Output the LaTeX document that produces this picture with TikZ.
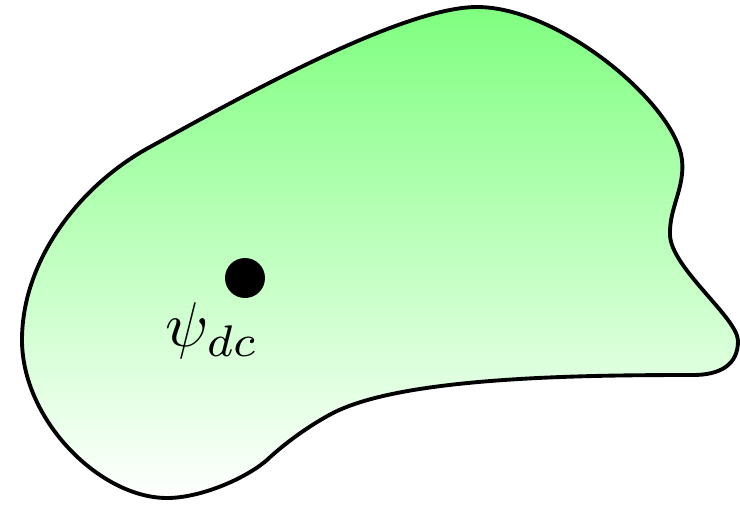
\documentclass[tikz,border=0pt]{standalone}
\begin{document}
\begin{tikzpicture}[x=0.02cm,y=-0.02cm,
  blob/.style={draw=black,line width=2.2pt,top color=green!50,bottom color=white},
  dotnode/.style={circle,fill=black,inner sep=0pt,minimum size=0.8cm},
  labelnode/.style={inner sep=0pt,scale=3.6}]
\useasboundingbox (0,0) rectangle (740,504);
\path[blob] (477,7)
  .. controls (560,7) and (676,105) .. (682,160)
  .. controls (685,188) and (669,208) .. (670,235)
  .. controls (671,268) and (738,318) .. (738,341)
  .. controls (738,365) and (720,375) .. (693,375)
  .. controls (580,375) and (403,377) .. (333,413)
  .. controls (310,425) and (285,443) .. (267,460)
  .. controls (245,479) and (200,498) .. (167,498)
  .. controls (100,498) and (22,420) .. (22,340)
  .. controls (22,260) and (80,185) .. (150,147)
  .. controls (230,103) and (400,7) .. (477,7) -- cycle;
\node[dotnode] (dot) at (245,278) {};
\node[labelnode] (lbl) at (212,331) {$\psi_{dc}$};
\end{tikzpicture}
\end{document}
